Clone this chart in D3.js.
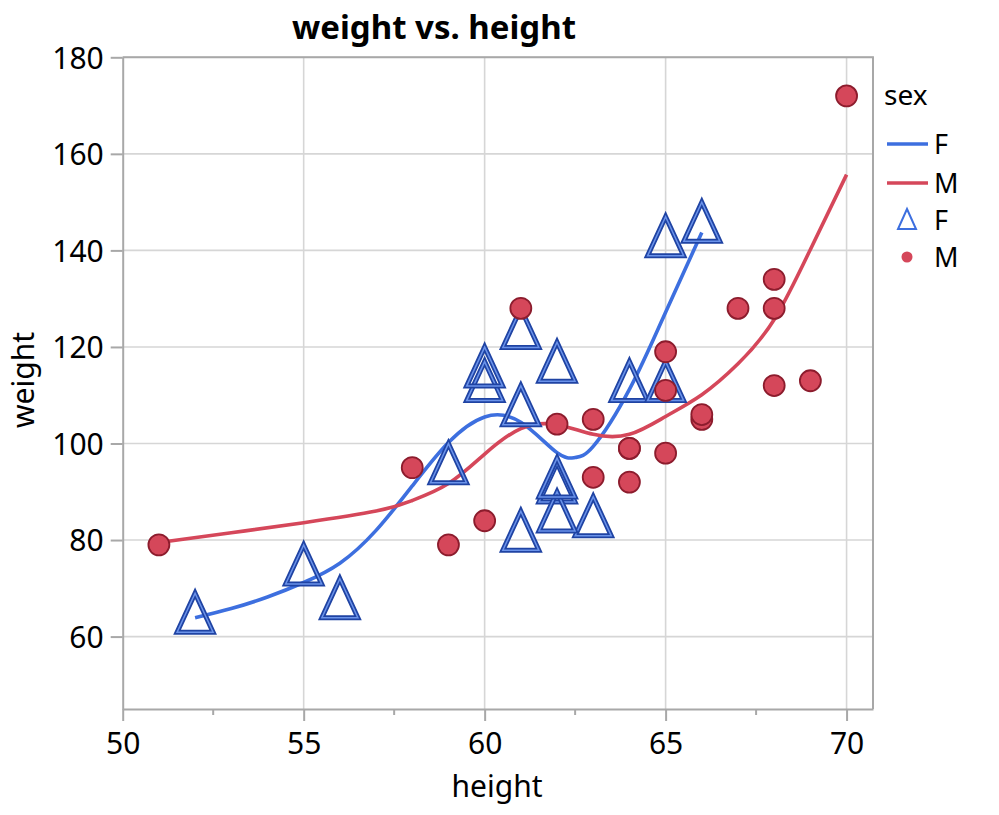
<!DOCTYPE html>
<html>
<head>
<meta charset="utf-8">
<script src="https://cdn.jsdelivr.net/npm/d3@7"></script>
<style>
  body { margin: 0; background: #fff; }
  svg { font-family: "Noto Sans", "Open Sans", sans-serif; }
</style>
</head>
<body>
<svg width="999" height="815"></svg>
<script>
// Points, females (triangles)
const heightF = [59, 61, 55, 66, 52, 60, 61, 56, 61, 62, 65, 63, 62, 62, 64, 65, 60, 62];
const weightF = [95, 123, 74, 145, 64, 112, 107, 67, 81, 91, 142, 84, 85, 92, 112, 112, 115, 116];
// Points, males (circles)
const heightM = [60, 61, 51, 65, 63, 58, 59, 63, 64, 65, 64, 68, 64, 69, 67, 65, 66, 62, 66, 68, 68, 70];
const weightM = [84, 128, 79, 98, 105, 95, 79, 93, 99, 119, 92, 112, 99, 113, 128, 111, 105, 104, 106, 128, 134, 172];

// smoother curves
const fitHeightF = [52, 53, 54, 55, 56, 57, 58, 59, 60, 61, 62, 62.5, 63, 64, 65, 66];
const fitWeightF = [63.9, 65.8, 68.2, 71.2, 75.2, 82, 91.2, 100.2, 105.5, 104.4, 98.1, 97.1, 99.4, 111.2, 127.2, 143.7];
const fitHeightM = [51, 53, 55, 57, 58, 59, 60, 61, 62, 63, 64, 65, 66, 67, 68, 69, 70];
const fitWeightM = [79.5, 81.5, 83.6, 86, 88.2, 91.7, 97.8, 103.1, 103.9, 101.9, 101.9, 105.6, 110.1, 116.5, 125.7, 140.2, 155.7];

const xTicks = [50, 55, 60, 65, 70];
const xMinor = [52.5, 57.5, 62.5, 67.5];
const yTicks = [60, 80, 100, 120, 140, 160, 180];
const groups = ["F", "M"];

const blue = "#3d6fdf", red = "#d5475a";
const svg = d3.select("svg");

const x = d3.scaleLinear().domain([50, 70.73]).range([122.7, 873]);
const y = d3.scaleLinear().domain([45, 180]).range([709, 57.3]);

// grid
svg.append("g").selectAll("line").data(xTicks.slice(1)).enter().append("line")
  .attr("x1", d => x(d)).attr("x2", d => x(d)).attr("y1", y(180)).attr("y2", y(45))
  .style("stroke", "#d6d6d6").style("stroke-width", 1.6);
svg.append("g").selectAll("line").data(yTicks).enter().append("line")
  .attr("x1", x(50)).attr("x2", x(70.73)).attr("y1", d => y(d)).attr("y2", d => y(d))
  .style("stroke", "#d6d6d6").style("stroke-width", 1.6);

// frame top/right
svg.append("path")
  .attr("d", `M${x(50)},${y(180)}H${x(70.73)}V${y(45)}`)
  .style("fill", "none").style("stroke", "#a8a8a8").style("stroke-width", 2);

// axes
const xAxis = d3.axisBottom(x).tickValues(xTicks).tickSize(12).tickSizeOuter(0).tickPadding(11).tickFormat(d3.format("d"));
const gx = svg.append("g").attr("transform", `translate(0,${y(45)})`).call(xAxis);
svg.append("g").selectAll("line").data(xMinor).enter().append("line")
  .attr("x1", d => x(d)).attr("x2", d => x(d)).attr("y1", y(45)).attr("y2", y(45) + 6)
  .style("stroke", "#a8a8a8").style("stroke-width", 2);

const yAxis = d3.axisLeft(y).tickValues(yTicks).tickSize(12).tickSizeOuter(0).tickPadding(7).tickFormat(d3.format("d"));
const gy = svg.append("g").attr("transform", `translate(${x(50)},0)`).call(yAxis);

[gx, gy].forEach(g => {
  g.select(".domain").style("stroke", "#a8a8a8").style("stroke-width", 2);
  g.selectAll(".tick line").style("stroke", "#a8a8a8").style("stroke-width", 2);
  g.selectAll("text").style("font-family", "Noto Sans").style("font-size", "30px").style("fill", "#000");
});
gx.selectAll(".tick text").attr("dy", "0.72em");
gy.selectAll(".tick text").attr("dy", "0.36em");

// curves
const line = d3.line().x(d => x(d[0])).y(d => y(d[1])).curve(d3.curveNatural);
svg.append("path").datum(d3.zip(fitHeightF, fitWeightF)).attr("d", line)
  .style("fill", "none").style("stroke", blue).style("stroke-width", 3.6);
svg.append("path").datum(d3.zip(fitHeightM, fitWeightM)).attr("d", line)
  .style("fill", "none").style("stroke", red).style("stroke-width", 3.6);

// triangle markers
function triPath(cx, cy, w, up, down) {
  return `M${cx},${cy - up}L${cx + w},${cy + down}L${cx - w},${cy + down}Z`;
}
const fPts = d3.zip(heightF, weightF);
const gT = svg.append("g");
fPts.forEach(d => {
  const p = triPath(x(d[0]), y(d[1]), 18, 24, 15);
  gT.append("path").attr("d", p).style("fill", "none").style("stroke", "#1f43a3")
    .style("stroke-width", 5).style("stroke-linejoin", "miter");
  gT.append("path").attr("d", p).style("fill", "none").style("stroke", "#6b93ea")
    .style("stroke-width", 1.5).style("stroke-linejoin", "miter");
});

// circles
svg.append("g").selectAll("circle").data(d3.zip(heightM, weightM)).enter().append("circle")
  .attr("cx", d => x(d[0])).attr("cy", d => y(d[1])).attr("r", 10.5)
  .style("fill", red).style("stroke", "#8c1c2d").style("stroke-width", 1.8);

// title
svg.append("text").attr("x", 434).attr("y", 39).attr("text-anchor", "middle")
  .style("font-size", "33px").style("font-weight", "bold").text("weight vs. height");

// axis titles
svg.append("text").attr("x", 497).attr("y", 797).attr("text-anchor", "middle")
  .style("font-size", "30px").text("height");
svg.append("text").attr("transform", "translate(34,380) rotate(-90)").attr("text-anchor", "middle")
  .style("font-size", "30px").text("weight");

// legend
const lg = svg.append("g");
lg.append("text").attr("x", 884).attr("y", 105).style("font-size", "28px").text("sex");
groups.forEach((g, i) => {
  const ly = 144 + i * 39;
  lg.append("line").attr("x1", 887).attr("x2", 928).attr("y1", ly).attr("y2", ly)
    .style("stroke", i === 0 ? blue : red).style("stroke-width", 3.5);
  lg.append("text").attr("x", 934).attr("y", ly + 10).style("font-size", "27px").text(g);
});
lg.append("path").attr("d", triPath(907, 221, 9, 12, 8)).style("fill", "none")
  .style("stroke", blue).style("stroke-width", 2);
lg.append("text").attr("x", 934).attr("y", 230).style("font-size", "27px").text("F");
lg.append("circle").attr("cx", 907).attr("cy", 257).attr("r", 5.5).style("fill", red);
lg.append("text").attr("x", 934).attr("y", 267).style("font-size", "27px").text("M");
</script>
</body>
</html>
